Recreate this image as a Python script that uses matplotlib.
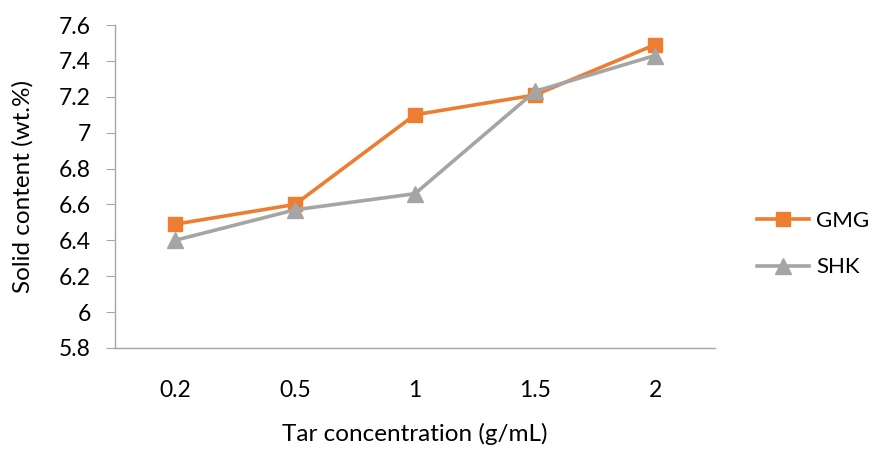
import matplotlib
matplotlib.use("Agg")
import matplotlib.pyplot as plt

categories = ["0.2", "0.5", "1", "1.5", "2"]
gmg = [6.49, 6.60, 7.10, 7.21, 7.49]
shk = [6.40, 6.57, 6.66, 7.23, 7.43]
yticks = [5.8, 6.0, 6.2, 6.4, 6.6, 6.8, 7.0, 7.2, 7.4, 7.6]
ytick_labels = ["5.8", "6", "6.2", "6.4", "6.6", "6.8", "7", "7.2", "7.4", "7.6"]

plt.rcParams['font.family'] = ['Lato', 'DejaVu Sans']
fs = 16.5
lfs = 17.5

fig = plt.figure(figsize=(8.73, 4.57), dpi=100)
ax = fig.add_axes([115/873, 1 - 348/457, 600/873, 323/457])

x = list(range(len(categories)))
l1, = ax.plot(x, gmg, color="#ED7D31", lw=2.6, marker="s", markersize=10, label="GMG")
l2, = ax.plot(x, shk, color="#A5A5A5", lw=2.6, marker="^", markersize=11, label="SHK")

ax.set_xlim(-0.5, len(categories) - 0.5)
ax.set_ylim(5.8, 7.6)
ax.set_xticks(x)
ax.set_xticklabels(categories, fontsize=fs)
ax.set_yticks(yticks)
ax.set_yticklabels(ytick_labels, fontsize=fs)

for s in ["top", "right"]:
    ax.spines[s].set_visible(False)
for s in ["left", "bottom"]:
    ax.spines[s].set_color("#A6A6A6")
    ax.spines[s].set_linewidth(1.0)
ax.tick_params(axis="y", length=6.5, color="#A6A6A6", pad=11)
ax.tick_params(axis="x", length=0, pad=23)

ax.set_xlabel("Tar concentration (g/mL)", fontsize=lfs, labelpad=16)
ax.set_ylabel("Solid content (wt.%)", fontsize=lfs, labelpad=18)

fig.legend(handles=[l1, l2], loc="center left", bbox_to_anchor=(737/873, 1 - 244/457),
           frameon=False, fontsize=16, handlelength=2.35, labelspacing=1.2, handletextpad=0.3)

fig.savefig("out.png", dpi=100)
